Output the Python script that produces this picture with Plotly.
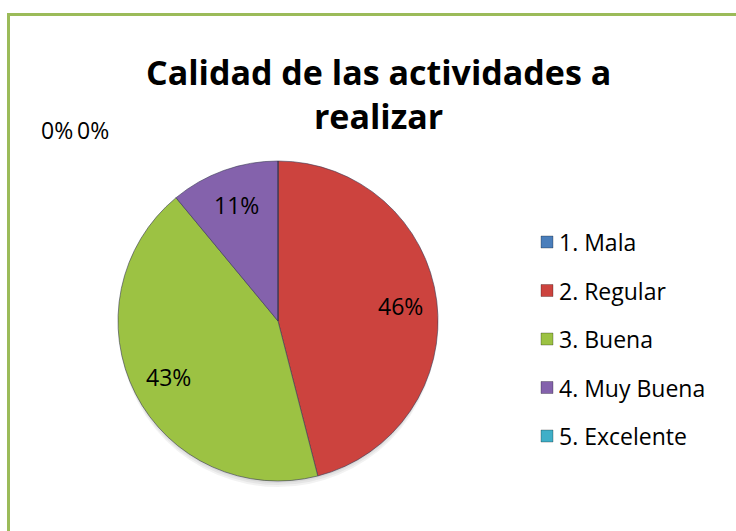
import math
import plotly.graph_objects as go

# Survey results: quality of the activities to be carried out
labels = ["1. Mala", "2. Regular", "3. Buena", "4. Muy Buena", "5. Excelente"]
percent = [0, 46, 43, 11, 0]
colors = ["#4A7EBB", "#CC433E", "#9CC243", "#8462AC", "#3FAFC8"]
title_lines = ["Calidad de las actividades a", "realizar"]

W, H = 736, 531
# pie placement in pixels
cx, cy, R = 278, 321, 160
dom_x = [(cx - R) / W, (cx + R) / W]
dom_y = [(H - cy - R) / H, (H - cy + R) / H]

FONT = "Open Sans"
TXT = 23


def px(x):
    return x / W


def py(y):
    return (H - y) / H


fig = go.Figure()
fig.add_trace(go.Pie(
    labels=labels,
    values=percent,
    sort=False,
    direction="clockwise",
    rotation=0,
    marker=dict(colors=colors, line=dict(color="#3a3a55", width=0.6)),
    textinfo="none",
    hoverinfo="label+percent",
    showlegend=False,
    domain=dict(x=dom_x, y=dom_y),
))

annotations = []
shapes = []

# soft shadow under the pie
for i in range(3):
    off = 2 + 2 * i
    shapes.append(dict(
        type="circle", xref="paper", yref="paper",
        x0=px(cx - R + 1), x1=px(cx + R - 1),
        y0=py(cy + R + off), y1=py(cy - R + off),
        fillcolor="rgba(0,0,0,0.05)", line=dict(width=0), layer="below",
    ))

# slice labels placed along each slice bisector
total = sum(percent)
cum = 0
zero_labels = []
for lab, v in zip(labels, percent):
    mid = (cum + v / 2) / total * 2 * math.pi
    cum += v
    if v == 0:
        zero_labels.append(v)
        continue
    r = 0.77 * R
    annotations.append(dict(
        x=px(cx + r * math.sin(mid)), y=py(cy - r * math.cos(mid)),
        xref="paper", yref="paper",
        text=f"{v}%", showarrow=False,
        font=dict(family=FONT, size=TXT, color="#000000"),
        xanchor="center", yanchor="middle",
    ))

# zero-value slices are listed at the upper left
for x, v in zip([57, 93], zero_labels):
    annotations.append(dict(
        x=px(x), y=py(130), xref="paper", yref="paper",
        text=f"{v}%", showarrow=False,
        font=dict(family=FONT, size=TXT, color="#000000"),
        xanchor="center", yanchor="middle",
    ))

# two-line title
annotations.append(dict(
    x=px(378), y=py(94), xref="paper", yref="paper",
    text="<b>" + "<br>".join(title_lines) + "</b>", showarrow=False,
    font=dict(family=FONT, size=34, color="#000000"),
    xanchor="center", yanchor="middle", align="center",
))

# legend
row0, step = 242, 48.5
for i, (lab, c) in enumerate(zip(labels, colors)):
    yy = row0 + i * step
    shapes.append(dict(
        type="rect", xref="paper", yref="paper",
        x0=px(541), x1=px(553), y0=py(yy + 6), y1=py(yy - 6),
        fillcolor=c, line=dict(color="rgba(0,0,0,0.35)", width=0.8),
    ))
    annotations.append(dict(
        x=px(557), y=py(yy), xref="paper", yref="paper",
        text=lab, showarrow=False,
        font=dict(family=FONT, size=TXT, color="#000000"),
        xanchor="left", yanchor="middle",
    ))

# chart frame (extends past the right and bottom edges)
shapes.append(dict(
    type="rect", xref="paper", yref="paper",
    x0=px(8.5), x1=1.05, y0=-0.05, y1=py(14.5),
    line=dict(color="#9BBB59", width=3), fillcolor="rgba(0,0,0,0)",
))

fig.update_layout(
    width=W, height=H,
    margin=dict(l=0, r=0, t=0, b=0),
    paper_bgcolor="white", plot_bgcolor="white",
    annotations=annotations, shapes=shapes,
)

fig.write_html("out.html")
